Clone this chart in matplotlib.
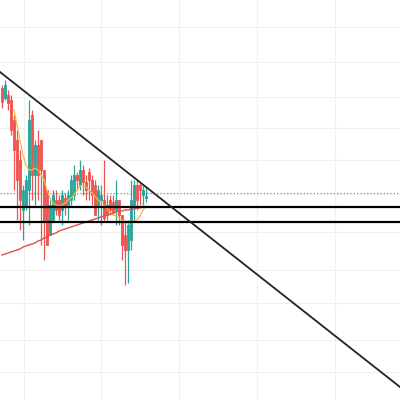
import matplotlib.pyplot as plt

# candle prices (higher = up), one entry per bar
opens = [312, 302, 305, 300, 280, 260, 240, 190, 195, 210, 285, 225, 255, 260, 230, 210,
         165, 180, 200, 200, 190, 202, 195, 200, 205,
         225, 215, 230, 218, 228, 220, 215, 195, 200, 200, 195, 200, 198, 190, 200,
         185, 165, 150, 160, 195, 215, 215, 205, 202]
closes = [298, 315, 297, 270, 250, 220, 200, 210, 220, 280, 225, 255, 225, 230, 180, 155,
          195, 205, 190, 185, 205, 195, 205, 220, 225,
          220, 230, 218, 210, 220, 205, 185, 210, 205, 182, 185, 190, 188, 200, 185,
          155, 150, 175, 200, 215, 200, 210, 210, 204]
highs = [315, 320, 310, 305, 285, 270, 250, 215, 225, 300, 290, 260, 270, 240, 215, 200,
         200, 210, 210, 205, 210, 207, 210, 225, 235,
         228, 240, 235, 225, 232, 225, 220, 215, 215, 240, 205, 205, 205, 220, 200,
         180, 180, 180, 220, 220, 220, 217, 215, 214]
lows = [292, 300, 290, 265, 210, 180, 170, 160, 190, 175, 200, 195, 200, 155, 140, 155,
        170, 185, 185, 180, 175, 185, 180, 195, 200,
        210, 210, 205, 200, 200, 195, 185, 180, 175, 178, 180, 185, 185, 175, 175,
        140, 115, 117, 150, 180, 190, 195, 195, 198]

fast_ma = [290, 275, 260, 245, 235, 230, 230, 232, 230, 225, 220, 210, 202, 197, 195,
           194, 195, 197, 200, 202, 205, 210, 214, 215, 213, 210, 207, 204, 200, 197,
           195, 192, 188, 185, 184, 182, 180, 178, 177, 178, 179, 180, 184, 190, 194]
slow_ma = [145, 146, 147, 148, 149, 150, 151, 153, 154, 155, 156, 157, 159, 160, 162,
           163, 165, 166, 167, 169, 170, 171, 172, 173, 174, 175, 176, 177, 178, 179,
           180, 181, 182, 183, 184, 185, 186, 187, 188, 189, 189, 190, 190, 191, 191,
           192, 192, 193, 193]

support_levels = [193, 178]
last_price = 207
trend_start = (-0.67, 328)
trend_end = (132.67, 13)

fig = plt.figure(figsize=(4, 4), dpi=100)
ax = fig.add_axes([0, 0, 1, 1])
ax.set_xlim(-0.67, 132.67)
ax.set_ylim(0, 400)

for x in [7.3, 33, 59, 85, 111]:
    ax.axvline(x, color="#f0f0f0", lw=0.8, zorder=0)
for y in [28, 60, 97, 130, 168, 206, 240, 272, 303, 338, 373]:
    ax.axhline(y, color="#f0f0f0", lw=0.8, zorder=0)

for i, (o, c, h, l) in enumerate(zip(opens, closes, highs, lows)):
    col = "#26a69a" if c >= o else "#ef5350"
    ax.vlines(i, l, h, color=col, lw=0.9, zorder=2)
    ax.bar(i, abs(c - o) or 1, bottom=min(o, c), width=0.85, color=col,
           edgecolor=col, lw=0.6, zorder=3)

ax.plot(range(4, 4 + len(fast_ma)), fast_ma, color="#f5b940", lw=0.9, zorder=4)
ax.plot(range(len(slow_ma)), slow_ma, color="#d9534f", lw=1.0, zorder=4)

ax.axhline(last_price, color="#26a69a", lw=0.8, ls=(0, (1, 2)), zorder=1)
for lvl in support_levels:
    ax.axhline(lvl, color="black", lw=1.6, zorder=5)
ax.plot([trend_start[0], trend_end[0]], [trend_start[1], trend_end[1]], color="#222222", lw=1.3, zorder=5)

ax.axis("off")
fig.savefig("out.png", dpi=100)
